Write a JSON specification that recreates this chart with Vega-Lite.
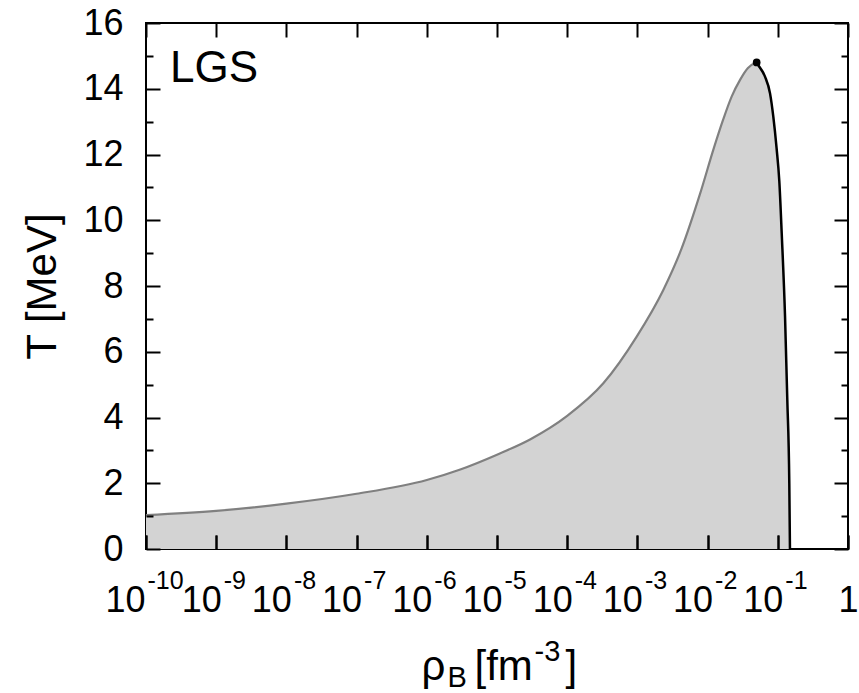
{
  "$schema": "https://vega.github.io/schema/vega-lite/v6.json",
  "width": 702,
  "height": 526,
  "autosize": {"type": "none"},
  "padding": {"left": 146, "top": 23, "right": 11, "bottom": 144},
  "config": {
    "view": {"stroke": "black", "strokeWidth": 2},
    "font": "Liberation Sans",
    "axis": {"domain": false, "grid": false, "zindex": 2, "tickColor": "black", "tickWidth": 2, "labelColor": "black", "labelFont": "Liberation Sans", "titleFont": "Liberation Sans", "titleColor": "black", "titleFontWeight": "normal", "labelOverlap": false, "labelFlush": false, "labelBound": false}
  },
  "datasets": {
    "curve": [
      {"rho": 1e-10, "T": 1.03, "branch": "gas"},
      {"rho": 1e-9, "T": 1.16, "branch": "gas"},
      {"rho": 1e-8, "T": 1.38, "branch": "gas"},
      {"rho": 1e-7, "T": 1.68, "branch": "gas"},
      {"rho": 1e-6, "T": 2.10, "branch": "gas"},
      {"rho": 3e-6, "T": 2.42, "branch": "gas"},
      {"rho": 1e-5, "T": 2.87, "branch": "gas"},
      {"rho": 3e-5, "T": 3.34, "branch": "gas"},
      {"rho": 1e-4, "T": 4.05, "branch": "gas"},
      {"rho": 3.27e-4, "T": 5.04, "branch": "gas"},
      {"rho": 9.77e-4, "T": 6.46, "branch": "gas"},
      {"rho": 2.34e-3, "T": 7.88, "branch": "gas"},
      {"rho": 4.28e-3, "T": 9.15, "branch": "gas"},
      {"rho": 7.8e-3, "T": 10.8, "branch": "gas"},
      {"rho": 0.0123, "T": 12.2, "branch": "gas"},
      {"rho": 0.0166, "T": 13.05, "branch": "gas"},
      {"rho": 0.022, "T": 13.76, "branch": "gas"},
      {"rho": 0.029, "T": 14.27, "branch": "gas"},
      {"rho": 0.0376, "T": 14.63, "branch": "gas"},
      {"rho": 0.0473, "T": 14.78, "branch": "gas"},
      {"rho": 0.05, "T": 14.8, "branch": "gas"},
      {"rho": 0.05, "T": 14.8, "branch": "liquid"},
      {"rho": 0.0527, "T": 14.72, "branch": "liquid"},
      {"rho": 0.0657, "T": 14.37, "branch": "liquid"},
      {"rho": 0.0775, "T": 13.86, "branch": "liquid"},
      {"rho": 0.0863, "T": 13.15, "branch": "liquid"},
      {"rho": 0.096, "T": 12.2, "branch": "liquid"},
      {"rho": 0.105, "T": 11.2, "branch": "liquid"},
      {"rho": 0.1137, "T": 9.6, "branch": "liquid"},
      {"rho": 0.1268, "T": 7.07, "branch": "liquid"},
      {"rho": 0.1366, "T": 4.53, "branch": "liquid"},
      {"rho": 0.1458, "T": 2.0, "branch": "liquid"},
      {"rho": 0.149, "T": 0, "branch": "liquid"}
    ],
    "critical": [{"rho": 0.05, "T": 14.8}],
    "tag": [{"rho": 2.2e-10, "T": 14.2, "label": "LGS"}]
  },
  "resolve": {"axis": {"x": "independent", "y": "independent"}},
  "layer": [
    {
      "data": {"name": "curve"},
      "transform": [{"filter": "!(datum.branch === 'liquid' && datum.rho === 0.05)"}],
      "mark": {"type": "area", "color": "#d3d3d3", "interpolate": "monotone", "clip": true},
      "encoding": {
        "x": {"field": "rho", "type": "quantitative",
              "scale": {"type": "log", "domain": [1e-10, 1], "nice": false},
              "axis": {"orient": "bottom", "zindex": 2, "values": [1e-10, 1e-9, 1e-8, 1e-7, 1e-6, 1e-5, 1e-4, 1e-3, 1e-2, 1e-1, 1],
                       "tickSize": -14, "labelPadding": 76, "labelFontSize": 36, "labelBaseline": "alphabetic",
                       "labelAlign": {"condition": {"test": "datum.value > 0.5", "value": "center"}, "value": "right"},
                       "labelOffset": {"condition": [{"test": "datum.value < 2e-10", "value": -1}, {"test": "datum.value > 0.5", "value": 0}], "value": 5},
                       "labelExpr": "datum.value > 0.5 ? '1' : '10'",
                       "title": "ρ", "titleFontSize": 42, "titleX": 275, "titleY": 130, "titleAlign": "left", "titleBaseline": "alphabetic"}},
        "y": {"field": "T", "type": "quantitative",
              "scale": {"domain": [0, 16], "nice": false},
              "axis": {"orient": "left", "zindex": 2, "values": [0, 2, 4, 6, 8, 10, 12, 14, 16], "tickSize": -14, "labelPadding": 37,
                       "labelFontSize": 36,
                       "title": "T [MeV]", "titleFontSize": 42, "titleX": -91, "titleY": 263, "titleAlign": "center", "titleBaseline": "alphabetic", "titleAngle": -90}}
      }
    },
    {
      "data": {"name": "curve"},
      "transform": [{"filter": "datum.branch === 'gas'"}],
      "mark": {"type": "line", "color": "#808080", "strokeWidth": 2.2, "interpolate": "monotone", "clip": true},
      "encoding": {
        "x": {"field": "rho", "type": "quantitative",
              "scale": {"type": "log", "domain": [1e-10, 1], "nice": false},
              "axis": {"orient": "top", "zindex": 2, "values": [1e-10, 1e-9, 1e-8, 1e-7, 1e-6, 1e-5, 1e-4, 1e-3, 1e-2, 1e-1, 1],
                       "tickSize": -14, "labels": false,
                       "title": "]", "titleFontSize": 42, "titleX": 419, "titleY": 656, "titleAlign": "left", "titleBaseline": "alphabetic"}},
        "y": {"field": "T", "type": "quantitative",
              "scale": {"domain": [0, 16], "nice": false},
              "axis": {"orient": "right", "zindex": 2, "values": [0, 2, 4, 6, 8, 10, 12, 14, 16], "tickSize": -14, "labels": false, "title": null}}
      }
    },
    {
      "data": {"name": "curve"},
      "transform": [{"filter": "datum.branch === 'liquid'"}],
      "mark": {"type": "line", "color": "black", "strokeWidth": 2.5, "interpolate": "monotone", "clip": true},
      "encoding": {
        "x": {"field": "rho", "type": "quantitative",
              "scale": {"type": "log", "domain": [1e-10, 1], "nice": false},
              "axis": {"orient": "bottom", "zindex": 2, "values": [1e-10, 1e-9, 1e-8, 1e-7, 1e-6, 1e-5, 1e-4, 1e-3, 1e-2, 1e-1, 1],
                       "tickSize": -14, "labelPadding": 53, "labelFontSize": 25, "labelBaseline": "alphabetic",
                       "labelAlign": "left",
                       "labelOffset": {"condition": {"test": "datum.value < 2e-10", "value": 1}, "value": 7},
                       "labelExpr": "datum.value > 0.5 ? '' : '' + round(log(datum.value)/LN10)",
                       "title": "B", "titleFontSize": 29, "titleX": 301, "titleY": 137, "titleAlign": "left", "titleBaseline": "alphabetic"}},
        "y": {"field": "T", "type": "quantitative",
              "scale": {"domain": [0, 16], "nice": false},
              "axis": {"orient": "left", "zindex": 2, "values": [1, 3, 5, 7, 9, 11, 13, 15], "tickSize": -7, "labels": false, "title": null}}
      }
    },
    {
      "data": {"name": "critical"},
      "mark": {"type": "point", "filled": true, "color": "black", "size": 60, "opacity": 1},
      "encoding": {
        "x": {"field": "rho", "type": "quantitative",
              "scale": {"type": "log", "domain": [1e-10, 1], "nice": false},
              "axis": {"orient": "bottom", "zindex": 2, "ticks": false, "labels": false,
                       "title": "[fm", "titleFontSize": 42, "titleX": 328, "titleY": 130, "titleAlign": "left", "titleBaseline": "alphabetic"}},
        "y": {"field": "T", "type": "quantitative",
              "scale": {"domain": [0, 16], "nice": false},
              "axis": {"orient": "right", "zindex": 2, "values": [1, 3, 5, 7, 9, 11, 13, 15], "tickSize": -7, "labels": false, "title": null}}
      }
    },
    {
      "data": {"name": "tag"},
      "mark": {"type": "text", "align": "left", "baseline": "alphabetic", "fontSize": 44, "font": "Liberation Sans", "color": "black"},
      "encoding": {
        "x": {"field": "rho", "type": "quantitative",
              "scale": {"type": "log", "domain": [1e-10, 1], "nice": false},
              "axis": {"orient": "bottom", "zindex": 2, "ticks": false, "labels": false,
                       "title": "-3", "titleFontSize": 29, "titleX": 388, "titleY": 111, "titleAlign": "left", "titleBaseline": "alphabetic"}},
        "y": {"field": "T", "type": "quantitative",
              "scale": {"domain": [0, 16], "nice": false}, "axis": null},
        "text": {"field": "label"}
      }
    }
  ]
}
